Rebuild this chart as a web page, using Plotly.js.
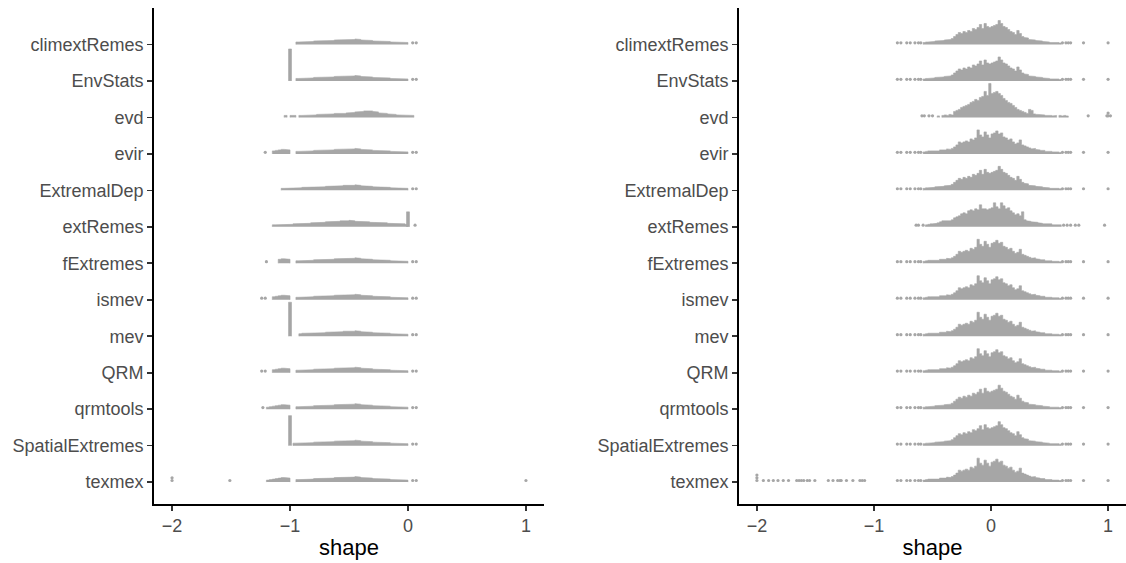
<!DOCTYPE html>
<html><head><meta charset="utf-8">
<script src="https://cdn.plot.ly/plotly-3.0.1.min.js"></script>
<style>html,body{margin:0;padding:0;background:#fff}#chart{width:1126px;height:563px}</style>
</head><body><div id="chart"></div>
<script>
// Packages, top to bottom
const packages = ["climextRemes","EnvStats","evd","evir","ExtremalDep","extRemes","fExtremes","ismev","mev","QRM","qrmtools","SpatialExtremes","texmex"];
const xTickVals = [-2, -1, 0, 1];
const xTickText = ["\u22122", "\u22121", "0", "1"];

// ---------- Panel 1 (left) : dot-stack heights ----------
const leftBinWidth = 0.025;
const leftCommonStart = -1.10;
const leftCommon = [2,2,2,2,2.5,2.5,2.5,2.5,3,3,3,3,3.5,3.5,3.5,3.5,4,4,4,4.5,4.5,4.5,5,4.5,5,5,5.5,5,4.5,4.5,4,4,3.5,3.5,3.5,3,3,3,2.5,2.5,2.5,2.5,2,2];
const leftEvdStart = -1.05;
const leftEvd = [2,0,2,2,0,2,2,2.5,2,2.5,2.5,3,3,3.5,3.5,3.5,3.5,4,3.5,4,4,4.5,4.5,5,5.5,5.5,6,6.5,7,6.5,6,5.5,4.5,4,4,3.5,3,3,2.5,2.5,2.5,2,2,2];
const leftExtRemesStart = -1.15;
const leftExtRemes = [2,2,2.5,2.5,2.5,2.5,2.5,3,3,3,3,3,3.5,4,4,4.5,4.5,4.5,5,5,5,5.5,5.5,6,5.5,6,6.5,6,5.5,5.5,5.5,5,5,4.5,4.5,4.5,4,4,4,3.5,3.5,3.5,3,3,3,2.5];
// minimum of the main cluster per package (null = own profile)
const leftMainMin = [-0.96,-0.95,null,-0.95,-1.075,null,-0.96,-0.95,-0.925,-0.95,-0.96,-0.975,-0.96];
// cluster just below -1
const leftLowStart = -1.20;
const leftLow = [2,2.5,3,3.5,4,4.5,4.5,4];
const leftLowMin = [null,null,null,-1.15,null,null,-1.11,-1.15,null,-1.15,-1.2,null,-1.2];
// tall stacks at a single value
const leftSpikeRow = ["EnvStats","mev","SpatialExtremes","extRemes"];
const leftSpikeX = [-1, -1, -1, 0];
const leftSpikeHeight = [32, 34, 30, 15];
// isolated dots
const leftTails = [
  [0.04,0.07],
  [0.04,0.07],
  [],
  [-1.21,0.04,0.07],
  [0.04,0.07],
  [0.06],
  [-1.20,0.04,0.07],
  [-1.24,-1.21,0.04,0.07],
  [0.04,0.07],
  [-1.24,-1.21,0.04,0.07],
  [-1.23,0.04,0.07],
  [0.04,0.07],
  [-2.0,-2.0,-1.51,0.04,0.07,1.0]
];

// ---------- Panel 2 (right) : dot-stack heights ----------
const rightBinWidth = 0.02;
const rightCommonStart = -0.58;
const rightA = [2,2.5,2.5,3,3,3.5,4,3.5,4,4.5,5,5,6,8,10,12,11,13,12,14,13,16,15,17,20,16,21,18,17,18,19,20,24,21,18,17,15,13,12,10,14,11,8,7,6.5,5,5,4.5,4,3.5,3.5,3,2.5,2.5,2,2.5,2,2,1.5];
const rightB = [2,2.5,3,3,3.5,3.5,3,4,4.5,4,5,4.5,5.5,7,9,12,11,12,13,12,15,14,16,24,19,17,22,19,16,20,21,23,20,21,17,16,14,15,12,10,11,14,9,8,7,6,5,5.5,4.5,4,3.5,3.5,2.5,3,2.5,2,2.5,2,1.5];
const rightEvdStart = -0.46;
const rightEvd = [1.5,0,2,2.5,2,3,2.5,6,7,8,10,11,12,13,15,16,18,17,20,21,26,22,34,24,25,26,24,22,19,17,15,14,12,10,8,7,6,5,4,8,7,3.5,3,3,2.5,2.5,2,2.5,2,1.5,2,0,2,1.5,2,1.5];
const rightExtRemesStart = -0.56;
const rightExtRemes = [2,2.5,3,3,3.5,4,5,6,5.5,6,6,7,9,10,11,13,14,13,16,17,16,18,17,22,18,18,17,18,19,24,20,18,24,21,18,19,16,14,12,13,11,15,7,6,5.5,5,5,4.5,4,3.5,3,3,2.5,3,2,2.5,2,2];
const rightProfile = ["A","A","evd","B","A","extRemes","B","B","B","B","A","A","B"];
const rightCommonTail = [-0.80,-0.77,-0.72,-0.69,-0.65,-0.62,-0.60,0.61,0.64,0.66,0.68,0.79,1.0];
const rightEvdTail = [-0.59,-0.57,-0.53,-0.50,0.83,0.99,1.0,1.0,1.02];
const rightExtRemesTail = [-0.64,-0.62,-0.58,0.62,0.65,0.68,0.72,0.75,0.97];
const rightTexmexExtra = [-2.0,-2.0,-2.0,-1.945,-1.90,-1.86,-1.82,-1.775,-1.73,-1.66,-1.64,-1.62,-1.60,-1.57,-1.55,-1.505,-1.39,-1.35,-1.31,-1.29,-1.28,-1.235,-1.18,-1.12,-1.10,-1.08];

// ---------- drawing helpers ----------
const pxPerRow = 36.5;          // vertical pixels per category step
const stackUnit = 1 / pxPerRow; // one stack-height unit in category units
const dotPx = 3.2;
const grey = "#A6A6A6";
const nRows = packages.length;
function rowY(i) { return nRows - 1 - i; }

// step-outline polygons (filled) for each stacked body
function bodyShapes(list, row, start, w, heights, minX) {
  let xs = [], ys = [], open = false;
  function close() {
    if (open) { xs.push(xs[xs.length - 1]); ys.push(row); list.push({x: xs, y: ys}); }
    xs = []; ys = []; open = false;
  }
  heights.forEach((h, k) => {
    const left = start + k * w, right = left + w, c = left + w / 2;
    if (h <= 0 || (minX !== null && minX !== undefined && c < minX)) { close(); return; }
    if (!open) { xs.push(left); ys.push(row); open = true; }
    xs.push(left, right); ys.push(row + h * stackUnit, row + h * stackUnit);
  });
  close();
}
function addDots(dots, row, xs) {
  const seen = {};
  xs.forEach(v => {
    const key = v.toFixed(3);
    const lvl = seen[key] || 0; seen[key] = lvl + 1;
    dots.x.push(v);
    dots.y.push(row + (dotPx / 2 + lvl * dotPx * 0.85) * stackUnit);
  });
}

// left panel marks
const lShapes = [], ld = {x: [], y: []};
packages.forEach((p, i) => {
  const r = rowY(i);
  if (p === "evd") bodyShapes(lShapes, r, leftEvdStart, leftBinWidth, leftEvd, null);
  else if (p === "extRemes") bodyShapes(lShapes, r, leftExtRemesStart, leftBinWidth, leftExtRemes, null);
  else bodyShapes(lShapes, r, leftCommonStart, leftBinWidth, leftCommon, leftMainMin[i]);
  if (leftLowMin[i] !== null) bodyShapes(lShapes, r, leftLowStart, leftBinWidth, leftLow, leftLowMin[i]);
  addDots(ld, r, leftTails[i]);
});
leftSpikeRow.forEach((p, k) => {
  const r = rowY(packages.indexOf(p));
  bodyShapes(lShapes, r, leftSpikeX[k] - 0.0125, 0.025, [leftSpikeHeight[k]], null);
});

// right panel marks
const rShapes = [], rd = {x: [], y: []};
packages.forEach((p, i) => {
  const r = rowY(i);
  const prof = rightProfile[i];
  if (prof === "A") { bodyShapes(rShapes, r, rightCommonStart, rightBinWidth, rightA, null); addDots(rd, r, rightCommonTail); }
  else if (prof === "B") { bodyShapes(rShapes, r, rightCommonStart, rightBinWidth, rightB, null); addDots(rd, r, rightCommonTail); }
  else if (prof === "evd") { bodyShapes(rShapes, r, rightEvdStart, rightBinWidth, rightEvd, null); addDots(rd, r, rightEvdTail); }
  else if (prof === "extRemes") { bodyShapes(rShapes, r, rightExtRemesStart, rightBinWidth, rightExtRemes, null); addDots(rd, r, rightExtRemesTail); }
  if (p === "texmex") addDots(rd, r, rightTexmexExtra);
});

function polyTraces(list, xa, ya) {
  return list.map(s => ({type: "scatter", mode: "lines", x: s.x, y: s.y, xaxis: xa, yaxis: ya,
    fill: "toself", fillcolor: grey, line: {color: grey, width: 0.6}, hoverinfo: "skip", showlegend: false}));
}
function dotTrace(d, xa, ya) {
  return {type: "scatter", mode: "markers", x: d.x, y: d.y, xaxis: xa, yaxis: ya,
    marker: {color: grey, size: dotPx, line: {width: 0}}, hoverinfo: "skip", showlegend: false};
}

const traces = [].concat(polyTraces(lShapes, "x", "y"), [dotTrace(ld, "x", "y")],
                         polyTraces(rShapes, "x2", "y2"), [dotTrace(rd, "x2", "y2")]);

const yVals = packages.map((p, i) => rowY(i));
const tickFont = {family: "Liberation Sans, Arial, sans-serif", size: 18, color: "#4D4D4D"};
function xAxis(domain, anchor) {
  return {domain: domain, anchor: anchor, range: [-2.153, 1.153], tickvals: xTickVals, ticktext: xTickText,
    showline: true, linecolor: "#000", linewidth: 1.8, ticks: "outside", ticklen: 5, tickwidth: 1.6, tickcolor: "#333",
    tickfont: tickFont, showgrid: false, zeroline: false,
    title: {text: "shape", font: {family: "Liberation Sans, Arial, sans-serif", size: 22, color: "#000"}, standoff: 4}};
}
function yAxis(anchor) {
  return {domain: [0, 1], anchor: anchor, range: [-0.6, 13.0], tickvals: yVals, ticktext: packages,
    showline: true, linecolor: "#000", linewidth: 1.8, ticks: "outside", ticklen: 5, tickwidth: 1.6, tickcolor: "#333",
    tickfont: tickFont, showgrid: false, zeroline: false};
}
const layout = {
  width: 1126, height: 563,
  margin: {l: 0, r: 0, t: 8, b: 59},
  paper_bgcolor: "#fff", plot_bgcolor: "#fff",
  xaxis: xAxis([154 / 1126, 544 / 1126], "y"),
  yaxis: yAxis("x"),
  xaxis2: xAxis([739 / 1126, 1], "y2"),
  yaxis2: yAxis("x2"),
  showlegend: false
};
Plotly.newPlot("chart", traces, layout, {staticPlot: true, displayModeBar: false});
</script>
</body></html>
